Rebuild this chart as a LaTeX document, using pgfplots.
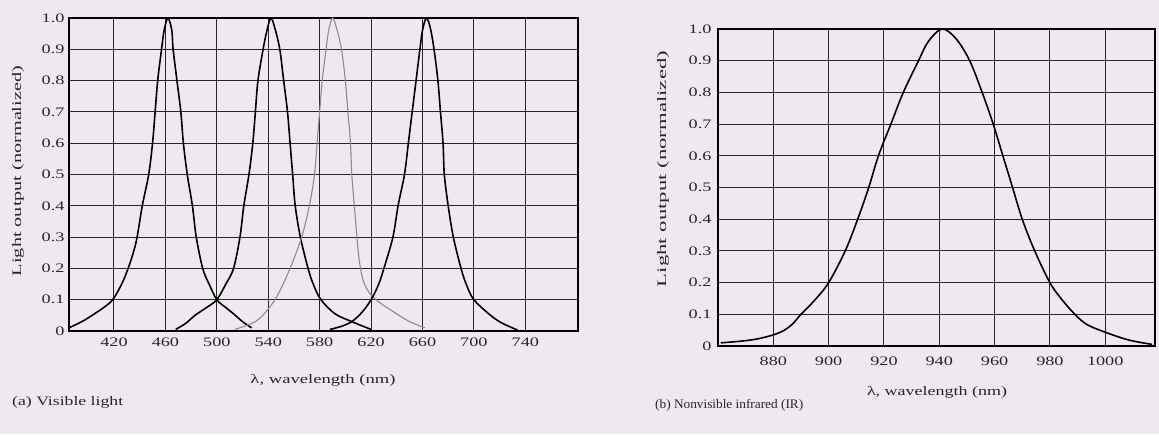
\documentclass[border=0pt]{standalone}
\usepackage{fontspec}
\usepackage{graphicx}
\usepackage{pgfplots}
\pgfplotsset{compat=1.18}
\setmainfont{Liberation Serif}
\newfontfamily\tickfont{Liberation Serif}[FakeStretch=1.4]
\definecolor{paper}{RGB}{238,233,238}

\pgfplotsset{
  ledgrid/.style={
    scale only axis,
    axis line style={black, line width=1.3pt},
    grid=major, grid style={black!85, line width=1.0pt},
    tick style={draw=none},
    ymin=0, ymax=1,
    ytick={0,0.1,...,1.0},
    yticklabels={0,0.1,0.2,0.3,0.4,0.5,0.6,0.7,0.8,0.9,1.0},
    tick label style={font=\tickfont\fontsize{13}{15}\selectfont, text=black!85},
  },
  curve/.style={black, line width=1.6pt, smooth, tension=0.55},
}

\begin{document}
\begin{tikzpicture}[x=1pt,y=1pt]
\fill[paper] (0,0) rectangle (1159,434);

% (a) visible
\begin{axis}[ledgrid,
  at={(69pt,103pt)}, anchor=south west,
  width=509pt, height=313pt,
  xmin=385, xmax=781,
  xtick={420,460,...,740},
  xticklabels={420,460,500,540,580,620,660,700,740},
  yticklabel style={xshift=-1pt},
  xticklabel style={yshift=-3pt},
]
% blue
\addplot[curve] coordinates {
 (385,0.01) (395,0.03) (403,0.05) (412,0.075) (419,0.1) (426,0.15) (431,0.2)
 (435,0.25) (438,0.3) (442,0.4) (447,0.5) (450,0.6) (452,0.7) (454,0.8)
 (457,0.9) (459,0.96) (462,1.0) (465,0.96) (466,0.9) (469,0.8) (472,0.7)
 (474,0.6) (477,0.5) (481,0.4) (484,0.3) (489,0.2) (494,0.15) (500,0.1)
 (507,0.075) (513,0.055) (520,0.03) (527,0.01)};
% green
\addplot[curve] coordinates {
 (468,0.005) (476,0.025) (483,0.05) (492,0.075) (500,0.1) (507,0.15) (513,0.2)
 (518,0.3) (521,0.4) (525,0.5) (528,0.6) (530,0.7) (532,0.8) (536,0.9)
 (539,0.96) (542,1.0) (545,0.97) (549,0.9) (552,0.8) (555,0.7) (557,0.6)
 (559,0.5) (561,0.4) (565,0.3) (571,0.2) (575,0.15) (581,0.1) (592,0.055)
 (605,0.03) (620,0.005)};
% yellow (printed lighter)
\addplot[curve, black!45, line width=1.1pt] coordinates {
 (514,0.005) (530,0.03) (540,0.07) (548,0.12) (557,0.2) (566,0.3) (572,0.4)
 (576,0.5) (578,0.6) (580,0.7) (582,0.8) (585,0.9) (587,0.96) (590,1.0)
 (593,0.97) (597,0.9) (600,0.8) (602,0.7) (604,0.6) (605,0.5) (607,0.4)
 (609,0.3) (611,0.22) (614,0.16) (619,0.12) (627,0.09) (638,0.06) (650,0.03)
 (662,0.01)};
% red
\addplot[curve] coordinates {
 (588,0.005) (597,0.015) (605,0.03) (613,0.06) (620,0.1) (626,0.15) (630,0.2)
 (637,0.3) (641,0.4) (646,0.5) (649,0.6) (652,0.7) (655,0.8) (658,0.9)
 (660,0.96) (663,1.0) (666,0.97) (669,0.9) (672,0.8) (674,0.7) (676,0.6)
 (677,0.5) (680,0.4) (684,0.3) (690,0.2) (694,0.15) (700,0.1) (713,0.05)
 (722,0.025) (734,0.003)};
\end{axis}

% (b) infrared
\begin{axis}[ledgrid,
  at={(718pt,88pt)}, anchor=south west,
  width=437pt, height=317pt,
  xmin=860, xmax=1018,
  xtick={880,900,...,1000},
  xticklabels={880,900,920,940,960,980,1000},
  yticklabel style={xshift=-3pt},
  xticklabel style={yshift=-7pt},
]
\addplot[curve] coordinates {
 (861,0.01) (868,0.015) (874,0.022) (880,0.035) (884,0.05) (887,0.07) (890,0.1)
 (895,0.145) (900,0.2) (906,0.3) (910.5,0.4) (914.5,0.5) (918,0.6) (922.5,0.7)
 (927,0.8) (932.5,0.9) (936,0.96) (941,1.0) (946,0.97) (951,0.9) (955.5,0.8)
 (959.5,0.7) (963,0.6) (966.5,0.5) (970,0.4) (974.5,0.3) (980,0.2) (984,0.15)
 (989,0.1) (993,0.07) (998,0.05) (1008,0.02) (1017,0.005)};
\end{axis}

\begin{scope}[every node/.style={text=black!85, font=\fontsize{13}{15}\selectfont, inner sep=0pt}]
\node at (323,54) {\resizebox{145pt}{\height}{λ, wavelength (nm)}};
\node[anchor=west] at (12,32) {\resizebox{111pt}{\height}{(a) Visible light}};
\node[rotate=90] at (18,263) {\resizebox{210pt}{\height}{Light output (normalized)}};
\node at (937,42) {\resizebox{140pt}{\height}{λ, wavelength (nm)}};
\node[anchor=west] at (655,29) {\resizebox{148pt}{\height}{(b) Nonvisible infrared (IR)}};
\node[rotate=90] at (663,265) {\resizebox{236pt}{\height}{Light output (normalized)}};
\end{scope}
\end{tikzpicture}
\end{document}
